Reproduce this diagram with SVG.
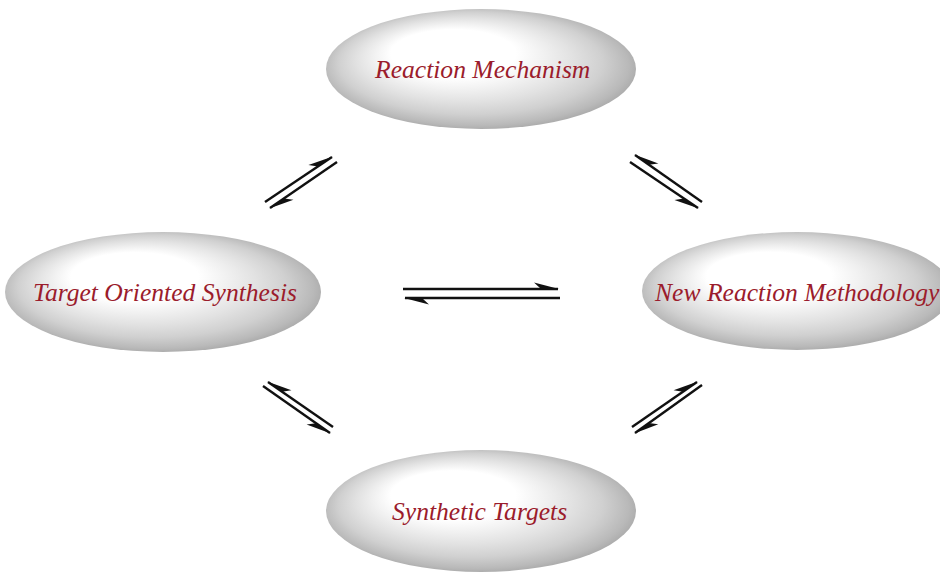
<svg xmlns="http://www.w3.org/2000/svg" width="940" height="574" viewBox="0 0 940 574">
<defs>
<radialGradient id="shade" cx="0.5" cy="0.5" r="0.56" fx="0.36" fy="0.3">
<stop offset="0" stop-color="#ffffff"/>
<stop offset="0.36" stop-color="#ffffff"/>
<stop offset="0.48" stop-color="#f2f2f2"/>
<stop offset="0.62" stop-color="#e2e2e2"/>
<stop offset="0.76" stop-color="#d0d0d0"/>
<stop offset="0.88" stop-color="#b9b9b9"/>
<stop offset="1" stop-color="#979797"/>
</radialGradient>
<marker id="hu" markerUnits="userSpaceOnUse" markerWidth="40" markerHeight="40" refX="0" refY="0" orient="auto" overflow="visible">
<path d="M1,0 L-24,-6.5 L-17,0 Z" fill="#111"/>
</marker>
<marker id="hd" markerUnits="userSpaceOnUse" markerWidth="40" markerHeight="40" refX="0" refY="0" orient="auto" overflow="visible">
<path d="M1,0 L-24,6.5 L-17,0 Z" fill="#111"/>
</marker>
</defs>
<style>
.node ellipse { fill: url(#shade); }
.node text { font-family: "Liberation Serif", "Times New Roman", serif; font-style: italic; font-size: 25.6px; fill: #9b1c2c; }
.conn path { stroke: #111; stroke-width: 2.4; fill: none; }
.u { marker-end: url(#hu); }
.d { marker-end: url(#hd); }
</style>
<rect width="940" height="574" fill="#ffffff"/>
<g id="reaction-mechanism" class="node">
<ellipse cx="481" cy="69" rx="155" ry="60"/>
<text x="375" y="78">Reaction Mechanism</text>
</g>
<g id="target-oriented-synthesis" class="node">
<ellipse cx="163" cy="292" rx="158" ry="60"/>
<text x="33" y="301">Target Oriented Synthesis</text>
</g>
<g id="new-reaction-methodology" class="node">
<ellipse cx="797" cy="291" rx="155" ry="59"/>
<text x="655" y="301">New Reaction Methodology</text>
</g>
<g id="synthetic-targets" class="node">
<ellipse cx="481" cy="511" rx="155" ry="61"/>
<text x="392" y="520">Synthetic Targets</text>
</g>
<g id="connectors" class="conn">
<path class="u" d="M403,289 L558,289"/>
<path class="u" d="M560,298 L405,298"/>
<path class="u" d="M265,202 L332,157"/>
<path class="u" d="M337,162 L270,208"/>
<path class="d" d="M702,202 L635,155"/>
<path class="d" d="M630,162 L698,208"/>
<path class="d" d="M333,427 L268,382"/>
<path class="d" d="M263,386 L330,433"/>
<path class="u" d="M632,427 L697,382"/>
<path class="u" d="M702,385 L635,433"/>
</g>
</svg>
